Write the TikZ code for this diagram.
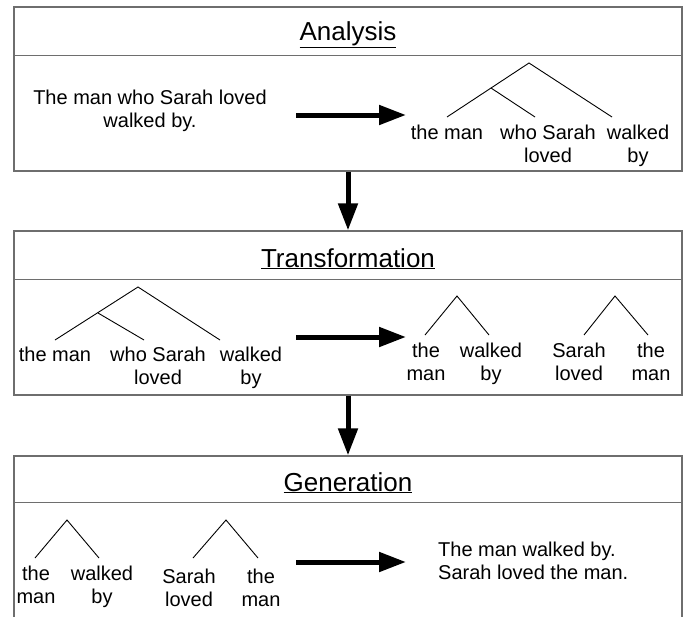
\documentclass[tikz,border=0pt]{standalone}
\usepackage{fontspec}
\setmainfont{Liberation Sans}
\usetikzlibrary{arrows.meta}
\definecolor{boxline}{RGB}{110,110,110}

\tikzset{
  box/.style={draw=boxline, line width=1.3pt, minimum width=668pt, minimum height=164pt, inner sep=0pt},
  divider/.style={draw=boxline, line width=1.3pt},
  title/.style={anchor=base, inner sep=0pt, font=\fontsize{26}{30}\selectfont},
  words/.style={align=center, anchor=north, inner sep=0pt, font=\fontsize{20}{23}\selectfont},
  branch/.style={line width=0.9pt},
  bigarrow/.style={line width=5pt, -{Triangle[length=27pt,width=19pt]}},
}

\begin{document}
\begin{tikzpicture}[x=1pt,y=-1pt]
\useasboundingbox (0,0) rectangle (690,616);
\clip (0,0) rectangle (690,616);

% the three stages
\node[box] (ana) at (348,89) {};
\node[box] (tra) at (348,313) {};
\node[box] (gen) at (348,538) {};
\draw[divider] ([yshift=-49pt]ana.north west) -- ([yshift=-49pt]ana.north east);
\draw[divider] ([yshift=-49pt]tra.north west) -- ([yshift=-49pt]tra.north east);
\draw[divider] ([yshift=-47pt]gen.north west) -- ([yshift=-47pt]gen.north east);
\node[title] (anatitle) at (348,40) {\underline{Analysis}};
\node[title] (tratitle) at (348,267) {\underline{Transformation}};
\node[title] (gentitle) at (348,491) {\underline{Generation}};

% stage to stage
\draw[bigarrow] (ana.south) -- (tra.north);
\draw[bigarrow] (tra.south) -- (gen.north);

% analysis: sentence -> tree
\node[words] (sent) at (150,90) {The man who Sarah loved\\walked by.};
\coordinate (a1) at (296,115);
\coordinate (a2) at (406,115);
\draw[bigarrow] (a1) -- (a2);

\coordinate (r1) at (529,63);
\coordinate (m1) at (491,88);
\coordinate (l11) at (447,117);
\coordinate (l12) at (535,117);
\coordinate (l13) at (612,117);
\draw[branch] (l11) -- (r1) -- (l13);
\draw[branch] (m1) -- (l12);
\node[words] (w11) at (447,125) {the man};
\node[words] (w12) at (548,125) {who Sarah\\loved};
\node[words] (w13) at (638,125) {walked\\by};

% transformation: tree -> two trees
\coordinate (r2) at (138,287);
\coordinate (m2) at (98,313);
\coordinate (l21) at (55,340);
\coordinate (l22) at (144,340);
\coordinate (l23) at (220,340);
\draw[branch] (l21) -- (r2) -- (l23);
\draw[branch] (m2) -- (l22);
\node[words] (w21) at (55,347) {the man};
\node[words] (w22) at (158,347) {who Sarah\\loved};
\node[words] (w23) at (251,347) {walked\\by};

\coordinate (b1) at (296,337);
\coordinate (b2) at (406,337);
\draw[bigarrow] (b1) -- (b2);

\coordinate (r3) at (457,296);
\coordinate (l31) at (425,335);
\coordinate (l32) at (489,335);
\draw[branch] (l31) -- (r3) -- (l32);
\node[words] (w31) at (426,343) {the\\man};
\node[words] (w32) at (491,343) {walked\\by};

\coordinate (r4) at (615,296);
\coordinate (l41) at (584,335);
\coordinate (l42) at (648,335);
\draw[branch] (l41) -- (r4) -- (l42);
\node[words] (w41) at (579,343) {Sarah\\loved};
\node[words] (w42) at (651,343) {the\\man};

% generation: two trees -> sentences
\coordinate (r5) at (67,520);
\coordinate (l51) at (35,558);
\coordinate (l52) at (99,558);
\draw[branch] (l51) -- (r5) -- (l52);
\node[words] (w51) at (36,566) {the\\man};
\node[words] (w52) at (102,566) {walked\\by};

\coordinate (r6) at (226,520);
\coordinate (l61) at (193,558);
\coordinate (l62) at (258,558);
\draw[branch] (l61) -- (r6) -- (l62);
\node[words] (w61) at (189,569) {Sarah\\loved};
\node[words] (w62) at (261,569) {the\\man};

\coordinate (c1) at (296,562);
\coordinate (c2) at (406,562);
\draw[bigarrow] (c1) -- (c2);
\node[words, align=left, anchor=north west] (out) at (438,542) {The man walked by.\\Sarah loved the man.};
\end{tikzpicture}
\end{document}
